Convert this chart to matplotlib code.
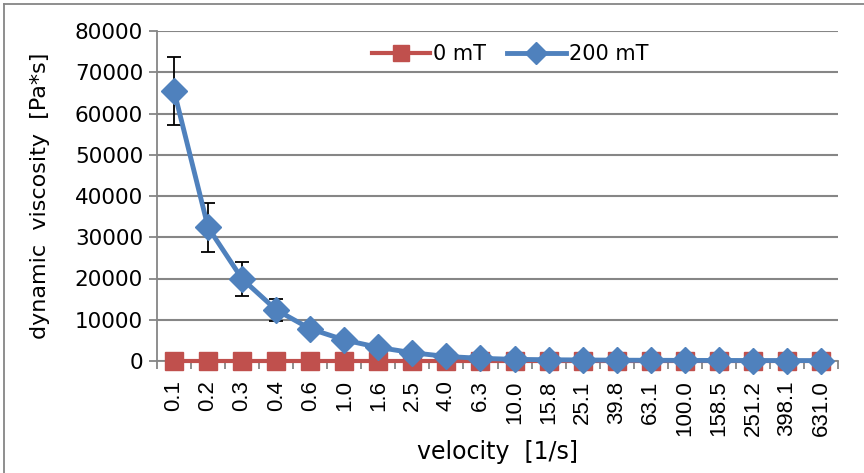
import matplotlib.pyplot as plt
from matplotlib.lines import Line2D
import numpy as np

velocity = ["0.1", "0.2", "0.3", "0.4", "0.6", "1.0", "1.6", "2.5", "4.0", "6.3",
            "10.0", "15.8", "25.1", "39.8", "63.1", "100.0", "158.5", "251.2", "398.1", "631.0"]
visc_0mT = [100, 100, 100, 100, 100, 100, 100, 100, 100, 100,
            100, 100, 100, 100, 100, 100, 100, 100, 100, 100]
visc_200mT = [65500, 32400, 19900, 12400, 7800, 5100, 3300, 2000, 1100, 650,
              400, 300, 250, 200, 170, 150, 130, 120, 110, 100]
err_200mT = [8200, 6000, 4200, 2600, 1200, 500, 300, 200, 100, 50,
             30, 20, 20, 10, 10, 10, 10, 10, 10, 10]
yticks = [0, 10000, 20000, 30000, 40000, 50000, 60000, 70000, 80000]

RED = "#C0504D"
BLUE = "#4F81BD"
GRID = "#868686"

fig = plt.figure(figsize=(8.64, 4.73), dpi=100)
ax = fig.add_axes([157 / 864, 1 - 361 / 473, (838 - 157) / 864, (361 - 31) / 473])

x = np.arange(len(velocity))

ax.plot(x, visc_0mT, color=RED, lw=3, marker="s", markersize=13,
        label="0 mT", zorder=3, clip_on=False)
ax.errorbar(x, visc_200mT, yerr=err_200mT, fmt="none", ecolor="black",
            elinewidth=1.3, capsize=5, capthick=1.3, zorder=2)
ax.plot(x, visc_200mT, color=BLUE, lw=3.5, marker="D", markersize=13,
        label="200 mT", zorder=4, clip_on=False)

ax.set_xlim(-0.5, len(velocity) - 0.5)
ax.set_ylim(0, 80000)
ax.set_yticks(yticks)
ax.set_yticklabels([str(v) for v in yticks], fontsize=15.5)
ax.set_xticks(x)
ax.set_xticklabels(velocity, rotation=90, family="Liberation Sans", fontsize=16)
ax.set_xticks(np.arange(-0.5, len(velocity)), minor=True)
ax.tick_params(axis="x", which="major", length=0, pad=14)
ax.tick_params(axis="x", which="minor", length=6, color=GRID, width=1.3)
ax.tick_params(axis="y", length=6, color=GRID, width=1.3, pad=4)

ax.grid(axis="y", color=GRID, lw=1.5)
ax.set_axisbelow(True)
for s in ["top", "right"]:
    ax.spines[s].set_visible(False)
for s in ["left", "bottom"]:
    ax.spines[s].set_color(GRID)
    ax.spines[s].set_linewidth(1.3)

ax.set_xlabel("velocity  [1/s]", fontsize=17, labelpad=3)
ax.set_ylabel("dynamic  viscosity  [Pa*s]", fontsize=16, labelpad=18)

leg = ax.legend(loc="center", bbox_to_anchor=(510 / 864, 1 - 54 / 473),
                bbox_transform=fig.transFigure, ncol=2, frameon=False,
                prop={"size": 15}, handlelength=2.8, markerscale=0.85,
                handletextpad=0.15, columnspacing=1.0, borderpad=0.2)

# chart area border (top and left edges visible)
fig.add_artist(Line2D([4 / 864, 4 / 864], [0, 1 - 4 / 473], transform=fig.transFigure,
                      color=GRID, lw=1.3))
fig.add_artist(Line2D([4 / 864, 1], [1 - 4 / 473, 1 - 4 / 473], transform=fig.transFigure,
                      color=GRID, lw=1.3))

fig.savefig("out.png", dpi=100)
